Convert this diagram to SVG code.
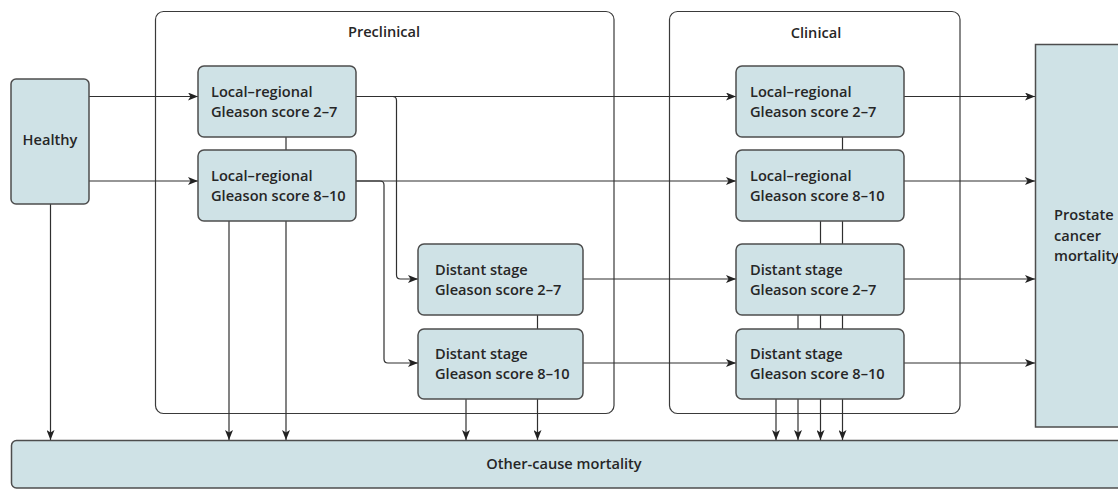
<svg xmlns="http://www.w3.org/2000/svg" width="1118" height="489" viewBox="0 0 1118 489">
<style>
.bg{fill:#ffffff}
.cont{fill:none;stroke:#3a3a3a;stroke-width:1.2}
.node{fill:#cfe2e6;stroke:#4d4d4d;stroke-width:1.5}
.t{font-family:"Open Sans","Liberation Sans",sans-serif;font-weight:600;font-size:14.6px;fill:#262626}
.ttl{font-family:"Open Sans","Liberation Sans",sans-serif;font-weight:600;font-size:14.6px;fill:#262626;text-anchor:middle}
.c{fill:none;stroke:#2f2f2f;stroke-width:1.2}
.ca{fill:none;stroke:#2f2f2f;stroke-width:1.2;marker-end:url(#ah)}
</style>
<defs>
<marker id="ah" viewBox="0 0 10 8" refX="10" refY="4" markerWidth="10" markerHeight="8" markerUnits="userSpaceOnUse" orient="auto">
<path d="M0,0 L10,4 L0,8 L2.5,4 z" fill="#222"/>
</marker>
</defs>
<rect class="bg" x="0" y="0" width="1118" height="489"/>

<g id="preclinical">
<rect class="cont" x="155.5" y="11.5" width="458.5" height="402" rx="8"/>
<text class="ttl" x="384" y="37">Preclinical</text>
</g>
<g id="clinical">
<rect class="cont" x="669.5" y="11.5" width="290.5" height="402" rx="8"/>
<text class="ttl" x="816" y="38">Clinical</text>
</g>

<g id="connectors">
<path class="ca" d="M89,96.5 H198"/>
<path class="ca" d="M89,181 H198"/>
<path class="ca" d="M356,96.5 H736"/>
<path class="ca" d="M356,181 H736"/>
<path class="ca" d="M583,279 H736"/>
<path class="ca" d="M583,363 H736"/>
<path class="ca" d="M356,96.5 H392.5 Q396.5,96.5 396.5,100.5 V275 Q396.5,279 400.5,279 H418"/>
<path class="ca" d="M356,181 H380 Q384,181 384,185 V359 Q384,363 388,363 H418"/>
<path class="ca" d="M904,96.5 H1035"/>
<path class="ca" d="M904,181 H1035"/>
<path class="ca" d="M904,279 H1035"/>
<path class="ca" d="M904,363 H1035"/>
<path class="ca" d="M50.5,204 V440"/>
<path class="c" d="M286,137 V150"/>
<path class="ca" d="M229,221 V440"/>
<path class="ca" d="M286,221 V440"/>
<path class="c" d="M537.5,315 V329"/>
<path class="ca" d="M466,399 V440"/>
<path class="ca" d="M537.5,399 V440"/>
<path class="c" d="M842.5,137 V150"/>
<path class="c" d="M820.5,221 V244"/>
<path class="c" d="M842.5,221 V244"/>
<path class="c" d="M798,315 V329"/>
<path class="c" d="M820.5,315 V329"/>
<path class="c" d="M842.5,315 V329"/>
<path class="ca" d="M776,399 V440"/>
<path class="ca" d="M798,399 V440"/>
<path class="ca" d="M820.5,399 V440"/>
<path class="ca" d="M842.5,399 V440"/>
</g>

<g id="healthy">
<rect class="node" x="11" y="79" width="78" height="125" rx="5"/>
<text class="ttl" x="50" y="145">Healthy</text>
</g>

<g id="pre-lr27">
<rect class="node" x="198" y="66" width="158" height="71" rx="6"/>
<text class="t" x="211" y="96.5">Local–regional</text>
<text class="t" x="211" y="117">Gleason score 2–7</text>
</g>
<g id="pre-lr810">
<rect class="node" x="198" y="150" width="158" height="71" rx="6"/>
<text class="t" x="211" y="180.5">Local–regional</text>
<text class="t" x="211" y="201">Gleason score 8–10</text>
</g>
<g id="pre-ds27">
<rect class="node" x="418" y="244" width="165" height="71" rx="6"/>
<text class="t" x="435" y="274.5">Distant stage</text>
<text class="t" x="435" y="295">Gleason score 2–7</text>
</g>
<g id="pre-ds810">
<rect class="node" x="418" y="329" width="165" height="70" rx="6"/>
<text class="t" x="435" y="358.5">Distant stage</text>
<text class="t" x="435" y="379">Gleason score 8–10</text>
</g>

<g id="cl-lr27">
<rect class="node" x="736" y="66" width="168" height="71" rx="6"/>
<text class="t" x="750" y="96.5">Local–regional</text>
<text class="t" x="750" y="117">Gleason score 2–7</text>
</g>
<g id="cl-lr810">
<rect class="node" x="736" y="150" width="168" height="71" rx="6"/>
<text class="t" x="750" y="180.5">Local–regional</text>
<text class="t" x="750" y="201">Gleason score 8–10</text>
</g>
<g id="cl-ds27">
<rect class="node" x="736" y="244" width="168" height="71" rx="6"/>
<text class="t" x="750" y="274.5">Distant stage</text>
<text class="t" x="750" y="295">Gleason score 2–7</text>
</g>
<g id="cl-ds810">
<rect class="node" x="736" y="329" width="168" height="70" rx="6"/>
<text class="t" x="750" y="358.5">Distant stage</text>
<text class="t" x="750" y="379">Gleason score 8–10</text>
</g>

<g id="prostate">
<rect class="node" x="1035.5" y="44.5" width="90" height="382.5"/>
<text class="t" x="1054" y="220">Prostate</text>
<text class="t" x="1054" y="240.5">cancer</text>
<text class="t" x="1054" y="261">mortality</text>
</g>

<g id="othercause">
<rect class="node" x="11.5" y="440.5" width="1115" height="47.5" rx="5"/>
<text class="ttl" x="564" y="469">Other-cause mortality</text>
</g>
</svg>
